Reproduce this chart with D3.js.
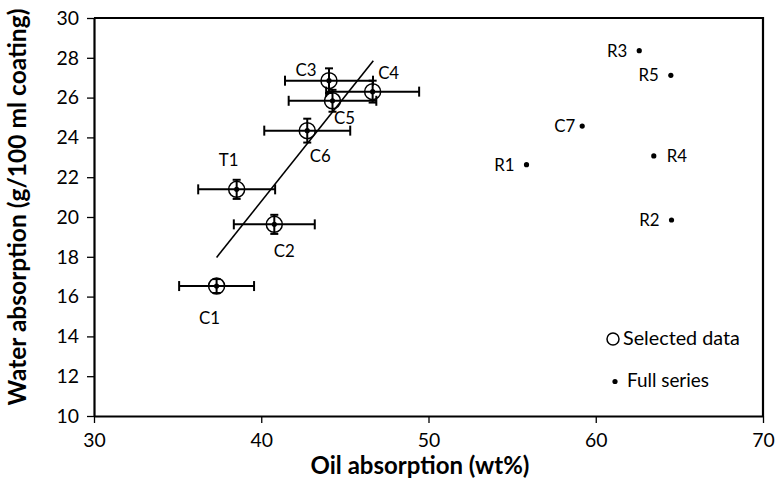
<!DOCTYPE html>
<html>
<head>
<meta charset="utf-8">
<script src="https://cdn.jsdelivr.net/npm/d3@7"></script>
<style>
  html, body { margin: 0; padding: 0; background: #fff; }
  svg { display: block; }
  text { font-family: Lato, "Open Sans", sans-serif; fill: #000; }
</style>
</head>
<body>
<svg id="chart" width="777" height="495"></svg>
<script>
// ---- data ----
const selectedNames = ["C1", "T1", "C2", "C6", "C3", "C5", "C4"];
const selectedOil = [37.33, 38.53, 40.78, 42.75, 44.05, 44.26, 46.66];
const selectedWater = [16.53, 21.39, 19.63, 24.34, 26.85, 25.84, 26.30];
const oilErr = [2.24, 2.3, 2.42, 2.57, 2.63, 2.62, 2.78];
const waterErr = [0.35, 0.48, 0.48, 0.6, 0.62, 0.55, 0.55];

const fullNames = ["R1", "R2", "R3", "R4", "R5", "C7"];
const fullOil = [55.86, 64.53, 62.6, 63.47, 64.49, 59.19];
const fullWater = [22.63, 19.85, 28.36, 23.07, 27.12, 24.57];

const trendOil = [37.33, 46.7];
const trendWater = [17.97, 27.85];

const xTicks = [30, 40, 50, 60, 70];
const yTicks = [10, 12, 14, 16, 18, 20, 22, 24, 26, 28, 30];
const legendLabels = ["Selected data", "Full series"];

// ---- layout ----
const L = 94, R = 763, T = 18, B = 416;
const svg = d3.select("#chart");
const x = d3.scaleLinear().domain([30, 70]).range([L, R]);
const y = d3.scaleLinear().domain([10, 30]).range([B, T]);

// scale a text's font size so it measures a target width
function fit(sel, base, target) {
  sel.attr("font-size", base);
  const w = sel.node().getComputedTextLength();
  sel.attr("font-size", base * target / w);
}

// axes
const xAxis = svg.append("g").attr("transform", `translate(0,${B})`)
  .call(d3.axisBottom(x).tickValues(xTicks).tickSize(7).tickSizeOuter(0).tickPadding(10));
const yAxis = svg.append("g").attr("transform", `translate(${L},0)`)
  .call(d3.axisLeft(y).tickValues(yTicks).tickSize(7).tickSizeOuter(0).tickPadding(8));
[xAxis, yAxis].forEach(g => {
  g.select(".domain").attr("stroke", "#000").attr("stroke-width", 2.2);
  g.selectAll(".tick line").attr("stroke", "#000").attr("stroke-width", 1.3);
  g.selectAll(".tick text").attr("font-family", "Lato, sans-serif").attr("fill", "#000");
});
{
  const probe = svg.append("text").text("30");
  fit(probe, 17, 22.5);
  const fs = probe.attr("font-size");
  probe.remove();
  svg.selectAll(".tick text").attr("font-size", fs);
}
// frame top/right
svg.append("line").attr("x1", L).attr("x2", R).attr("y1", T).attr("y2", T)
  .attr("stroke", "#000").attr("stroke-width", 2.2);
svg.append("line").attr("x1", R).attr("x2", R).attr("y1", T - 1).attr("y2", B)
  .attr("stroke", "#000").attr("stroke-width", 2.2);

// axis titles
const xt = svg.append("text").attr("x", 420).attr("y", 474)
  .attr("text-anchor", "middle").attr("font-weight", "bold")
  .text("Oil absorption (wt%)");
fit(xt, 18, 219);
const yt = svg.append("text").attr("transform", `translate(26,207) rotate(-90)`)
  .attr("text-anchor", "middle").attr("font-weight", "bold")
  .text("Water absorption (g/100 ml coating)");
fit(yt, 18, 397);

// trend line
svg.append("line")
  .attr("x1", x(trendOil[0])).attr("y1", y(trendWater[0]))
  .attr("x2", x(trendOil[1])).attr("y2", y(trendWater[1]))
  .attr("stroke", "#000").attr("stroke-width", 1.6);

// error bars
const eb = svg.append("g").attr("stroke", "#000").attr("stroke-width", 2);
selectedOil.forEach((ox, i) => {
  const cx = x(ox), cy = y(selectedWater[i]);
  const xl = x(ox - oilErr[i]), xr = x(ox + oilErr[i]);
  eb.append("line").attr("x1", xl).attr("x2", xr).attr("y1", cy).attr("y2", cy);
  eb.append("line").attr("x1", xl).attr("x2", xl).attr("y1", cy - 5).attr("y2", cy + 5);
  eb.append("line").attr("x1", xr).attr("x2", xr).attr("y1", cy - 5).attr("y2", cy + 5);
  const ytp = y(selectedWater[i] + waterErr[i]), ybt = y(selectedWater[i] - waterErr[i]);
  eb.append("line").attr("x1", cx).attr("x2", cx).attr("y1", ytp).attr("y2", ybt);
  eb.append("line").attr("x1", cx - 4).attr("x2", cx + 4).attr("y1", ytp).attr("y2", ytp);
  eb.append("line").attr("x1", cx - 4).attr("x2", cx + 4).attr("y1", ybt).attr("y2", ybt);
});

// open circles
svg.append("g").selectAll("circle").data(selectedOil).join("circle")
  .attr("cx", d => x(d)).attr("cy", (d, i) => y(selectedWater[i])).attr("r", 8)
  .attr("fill", "none").attr("stroke", "#000").attr("stroke-width", 1.5);

// full series dots (includes selected)
const allOil = selectedOil.concat(fullOil);
const allWater = selectedWater.concat(fullWater);
svg.append("g").selectAll("circle").data(allOil).join("circle")
  .attr("cx", d => x(d)).attr("cy", (d, i) => y(allWater[i])).attr("r", 2.6).attr("fill", "#000");

// label font size: "C3" ~21px wide
let lblSize;
{
  const probe = svg.append("text").text("C3");
  fit(probe, 16, 21);
  lblSize = probe.attr("font-size");
  probe.remove();
}

// labels for selected
const selOff = { C1: [-7, 38], T1: [-8, -23], C2: [10, 33], C6: [13, 31], C3: [-23, -5], C5: [12, 23], C4: [16, -13] };
svg.append("g").selectAll("text").data(selectedNames).join("text")
  .attr("x", (d, i) => x(selectedOil[i]) + selOff[d][0])
  .attr("y", (d, i) => y(selectedWater[i]) + selOff[d][1])
  .attr("text-anchor", "middle").attr("font-size", lblSize).text(d => d);

// labels for full series
const fullRight = { R4: true };
svg.append("g").selectAll("text").data(fullNames).join("text")
  .attr("x", (d, i) => x(fullOil[i]) + (fullRight[d] ? 13 : (d === "C7" ? -7 : -12)))
  .attr("y", (d, i) => y(fullWater[i]) + 6)
  .attr("text-anchor", d => fullRight[d] ? "start" : "end")
  .attr("font-size", lblSize).text(d => d);

// legend
const lg = svg.append("g");
lg.append("circle").attr("cx", 613).attr("cy", 339).attr("r", 6)
  .attr("fill", "none").attr("stroke", "#000").attr("stroke-width", 1.5);
const l1 = lg.append("text").attr("x", 623).attr("y", 345).text(legendLabels[0]);
fit(l1, 16, 117);
lg.append("circle").attr("cx", 615).attr("cy", 381.5).attr("r", 2.6).attr("fill", "#000");
const l2 = lg.append("text").attr("x", 627).attr("y", 387).text(legendLabels[1]);
fit(l2, 16, 82);
</script>
</body>
</html>
